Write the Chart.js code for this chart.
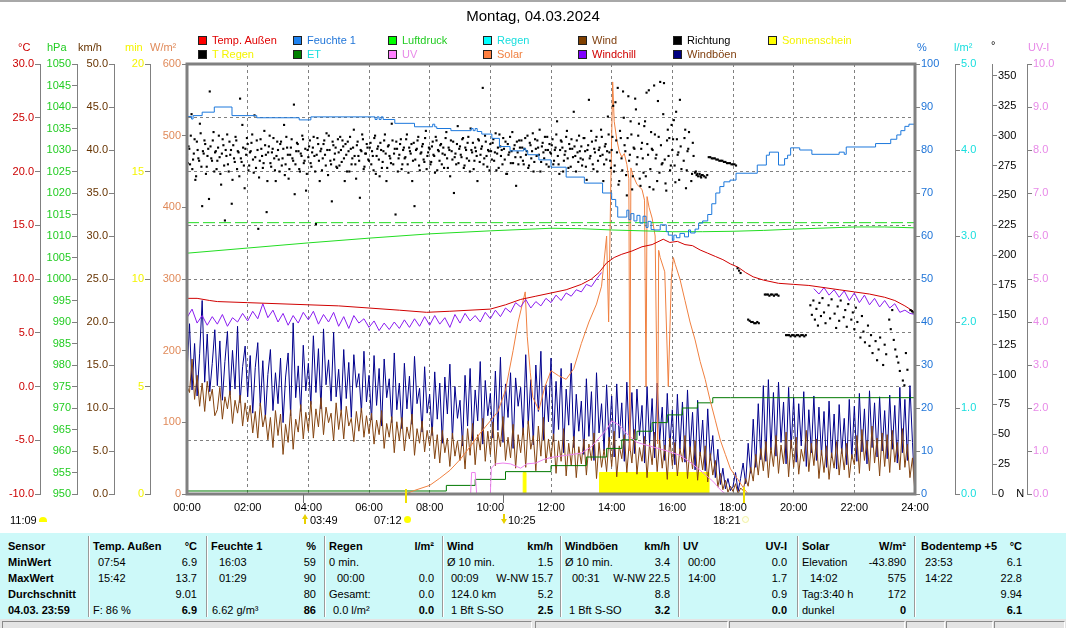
<!DOCTYPE html>
<html lang="de">
<head>
<meta charset="utf-8">
<title>Montag, 04.03.2024</title>
<script src="https://cdn.jsdelivr.net/npm/chart.js@4.4.1/dist/chart.umd.min.js"></script>
<style>
html,body{margin:0;padding:0;background:#fff;}
body{width:1066px;height:628px;overflow:hidden;position:relative;font-family:"Liberation Sans",Arial,sans-serif;font-size:11px;color:#000;}
#chart{position:absolute;left:0;top:0;}
.a{position:absolute;white-space:nowrap;line-height:13px;}
.lg{position:absolute;white-space:nowrap;line-height:13px;height:13px;}
.lg i{position:absolute;left:0;top:2px;width:7px;height:7px;border:1px solid #202020;}
.lg span{position:absolute;left:14px;top:0;}
#tbl{position:absolute;left:0;top:533px;width:1066px;height:86px;background:#cdf9f9;}
.sep{position:absolute;top:3px;width:1px;height:81px;background:#9a9a9a;border-right:1px solid #fff;}
.c{position:absolute;white-space:nowrap;line-height:13px;font-size:11px;}
.b{font-weight:bold;}
#status{position:absolute;left:0;top:619px;width:1066px;height:9px;background:#e4e4e4;}
.pn{position:absolute;top:2px;height:7px;border-top:1px solid #8a8a8a;border-left:1px solid #8a8a8a;border-right:1px solid #fff;}
</style>
</head>
<body>
<div style="position:absolute;left:0;top:0;width:1066px;height:2px;background:#a8a8a8"></div>
<canvas id="chart" width="1066" height="628"></canvas>

<!-- legend -->
<div class="lg" style="left:198px;top:34px"><i style="background:#ff0000"></i><span style="color:#e00000">Temp. Außen</span></div>
<div class="lg" style="left:293px;top:34px"><i style="background:#1e82f0"></i><span style="color:#1e74d8">Feuchte 1</span></div>
<div class="lg" style="left:388px;top:34px"><i style="background:#00ff00"></i><span style="color:#22cc22">Luftdruck</span></div>
<div class="lg" style="left:483px;top:34px"><i style="background:#00ffff"></i><span style="color:#18dede">Regen</span></div>
<div class="lg" style="left:578px;top:34px"><i style="background:#804000"></i><span style="color:#804010">Wind</span></div>
<div class="lg" style="left:673px;top:34px"><i style="background:#000000"></i><span style="color:#000000">Richtung</span></div>
<div class="lg" style="left:768px;top:34px"><i style="background:#ffff00"></i><span style="color:#f4f400">Sonnenschein</span></div>
<div class="lg" style="left:198px;top:47.5px"><i style="background:#000000"></i><span style="color:#f4f400">T Regen</span></div>
<div class="lg" style="left:293px;top:47.5px"><i style="background:#008000"></i><span style="color:#18dede">ET</span></div>
<div class="lg" style="left:388px;top:47.5px"><i style="background:#ff80ff"></i><span style="color:#e88ae8">UV</span></div>
<div class="lg" style="left:483px;top:47.5px"><i style="background:#ff8040"></i><span style="color:#f08040">Solar</span></div>
<div class="lg" style="left:578px;top:47.5px"><i style="background:#8000ff"></i><span style="color:#d00000">Windchill</span></div>
<div class="lg" style="left:673px;top:47.5px"><i style="background:#000080"></i><span style="color:#804010">Windböen</span></div>

<!-- axis titles -->
<div class="a" style="left:18px;top:41px;color:#cc0000">°C</div>
<div class="a" style="left:47px;top:41px;color:#22cc22">hPa</div>
<div class="a" style="left:78px;top:41px;color:#663300">km/h</div>
<div class="a" style="left:125px;top:41px;color:#f4f400">min</div>
<div class="a" style="left:150px;top:41px;color:#e08a5a">W/m²</div>
<div class="a" style="left:917px;top:41px;color:#1e74d8">%</div>
<div class="a" style="left:954px;top:41px;color:#18dede">l/m²</div>
<div class="a" style="left:991px;top:39px;color:#000">°</div>
<div class="a" style="left:1028px;top:41px;color:#e88ae8">UV-I</div>

<!-- markers below the time axis -->
<div style="position:absolute;left:303px;top:494px;width:1px;height:9px;background:#707070"></div>
<div style="position:absolute;left:503px;top:494px;width:1px;height:9px;background:#707070"></div>
<div style="position:absolute;left:405px;top:489px;width:2px;height:14px;background:#f0e000"></div>
<div style="position:absolute;left:743px;top:487px;width:2px;height:16px;background:#f0e000"></div>
<div class="a" style="left:10px;top:513.5px">11:09</div>
<div style="position:absolute;left:39px;top:517px;width:8px;height:5px;border-radius:4px 4px 0 0;background:#ffff00"></div>
<div style="position:absolute;left:302px;top:514px;width:0;height:0;border-left:3px solid transparent;border-right:3px solid transparent;border-bottom:5px solid #e8d000"></div>
<div style="position:absolute;left:304px;top:519px;width:2px;height:5px;background:#e8d000"></div>
<div class="a" style="left:310px;top:513.5px">03:49</div>
<div class="a" style="left:374px;top:513.5px">07:12</div>
<div style="position:absolute;left:404px;top:516px;width:7px;height:7px;border-radius:50%;background:#ffff00"></div>
<div style="position:absolute;left:503px;top:514px;width:2px;height:5px;background:#e8d000"></div>
<div style="position:absolute;left:501px;top:519px;width:0;height:0;border-left:3px solid transparent;border-right:3px solid transparent;border-top:5px solid #e8d000"></div>
<div class="a" style="left:508px;top:513.5px">10:25</div>
<div class="a" style="left:713px;top:513.5px">18:21</div>
<div style="position:absolute;left:742px;top:516px;width:5px;height:5px;border-radius:50%;border:1px solid #f0f0a0;background:#fffff0"></div>

<div id="tbl"></div>
<div id="status"></div>

<script>
// ---------------- data ----------------
const timeLabels = ['00:00','02:00','04:00','06:00','08:00','10:00','12:00','14:00','16:00','18:00','20:00','22:00','24:00'];
const dirTicks = [0,25,50,75,100,125,150,175,200,225,250,275,300,325,350];

// Temp. Außen (°C)
const tempTimes  = [0,20,45,60,120,180,240,300,360,420,474,520,600,630,660,690,720,750,780,800,815,830,845,860,880,900,920,942,955,970,985,1000,1015,1030,1045,1060,1075,1090,1105,1120,1140,1170,1200,1230,1260,1290,1320,1350,1380,1400,1420,1440];
const tempValues = [8.2,8.2,8.0,7.9,7.8,7.7,7.6,7.5,7.3,7.1,6.9,7.0,7.2,7.6,8.1,8.4,8.7,9.0,9.5,10.0,10.6,11.5,12.0,12.3,12.6,13.0,13.2,13.7,13.4,13.5,13.2,13.1,12.7,12.4,12.1,11.8,11.4,11.1,10.6,10.2,9.9,9.6,9.5,9.4,9.2,9.0,8.8,8.6,8.3,8.0,7.5,6.9];

// Windchill (°C), every 10 min
const WC_STEP = 10;
const windchill = [
6.4,7.2,5.9,6.6,5.7,6.5, 5.8,6.7,5.6,6.4,6.0,6.8, 6.1,7.0,6.3,7.7,6.4,7.1, 6.0,6.8,5.7,6.6,5.9,6.9,
6.2,7.0,5.8,6.7,6.0,6.9, 5.6,6.5,5.4,6.6,5.9,6.3, 5.5,6.1,5.2,5.9,5.3,6.0, 5.4,6.2,5.5,6.3,5.6,6.5,
5.7,6.6,5.8,6.4,5.5,6.7, 5.9,6.8,6.1,6.6,6.0,6.9, 6.3,7.1,6.5,7.3,6.9,7.8, 7.4,8.1,7.3,7.9,7.5,8.2,
7.8,8.5,8.0,8.7,8.4,9.0, 8.8,9.5,9.3,10.0,10.6,null,
null,null,null,null,null,null, null,null,null,null,null,null, null,null,null,null,null,null,
null,null,null,null,null,null, null,null,null,null,null,null, null,null,null,null,null,null,
null,null,null,null,9.1,8.6, 9.2,8.5,9.0,8.3,8.9,8.0, 8.7,7.8,8.5,7.6,8.2,7.4, 8.0,7.3,7.7,6.9,7.1,6.8,
6.7];

// Feuchte 1 (%)
const humTimes  = [0,9,12,30,54,89,138,222,245,372, 376,380,384,388,411,450,486,490,494,522, 562,566,570,574,583,603,618,639,666,670, 674,696,720,750,786,822,840,848,852,870, 874,878,884,890,896,902,908,912,918,924, 936,948,952,960,963,968,975,984,992,996, 1005,1012,1020,1030,1038,1046,1054,1062,1074,1086, 1128,1146,1152,1170,1182,1188,1194,1212,1236,1290, 1300,1304,1362,1392,1404,1412,1420,1428,1436,1440];
const humValues = [87.2,87.8,87.2,88.0,88.8,90.0,88.0,87.5,87.0,87.7, 87.1,87.7,87.1,87.7,87.1,86.2,85.4,86.0,85.4,85.0, 84.5,85.0,84.5,85.0,84.3,83.7,82.7,80.8,79.8,80.3, 79.8,78.9,77.7,76.0,73.7,72.3,70.0,68.5,66.8,64.4, 66.0,63.8,65.2,63.5,64.8,63.0,64.6,62.0,63.4,61.5, 61.4,62.6,61.0,60.2,59.0,60.2,59.6,60.6,59.8,61.4, 60.7,61.6,63.0,63.5,65.0,67.5,70.0,71.5,72.6,73.0, 74.6,76.5,78.8,79.5,76.5,78.0,78.8,80.5,80.0,79.0, 79.5,79.0,80.7,81.5,82.5,83.5,84.5,85.5,86.0,86.0];

// Luftdruck (hPa)
const presTimes  = [0,120,240,360,480,600,720,780,840,900,960,1020,1080,1140,1200,1320,1380,1440];
const presValues = [1006.0,1007.2,1008.4,1009.5,1010.5,1011.2,1011.8,1011.7,1011.4,1011.2,1011.0,1011.0,1011.1,1011.3,1011.6,1012.1,1012.1,1011.9];
const presRefTimes  = [0,1440];
const presRefValues = [1013.1,1013.1];

// Regen (l/m²) and ET (l/m²)
const rainTimes  = [0,1440];
const rainValues = [0,0];
const etTimes  = [0,513,570,630,720,790,830,860,890,920,950,980,1010,1040,1075,1440];
const etValues = [0,0.035,0.1,0.17,0.26,0.33,0.43,0.53,0.63,0.73,0.83,0.92,1.0,1.06,1.12,1.12];

// Sonnenschein (min)
const sunTimes  = [0,665,665,670,670,816,816,1032,1032,1440];
const sunValues = [0,0,1,1,0,0,1,1,0,0];

// UV-I
const uvTimes  = [0,561,563,570,573,600,602,610,625,640, 660,672,690,705,720,750,780,800,815,830, 840,855,870,890,920,950,975,1000,1020,1040, 1055,1065,1440];
const uvValues = [0,0,0.5,0.5,0,0,0.6,0.7,0.72,0.7, 0.6,0.7,0.72,0.8,0.85,0.9,0.95,1.1,1.3,1.5, 1.7,1.6,1.4,1.2,1.1,1.0,0.9,0.7,0.5,0.3, 0.1,0,0];

// Solar (W/m²)
const solarTimes  = [0,432,450,480,500,520,540,560,580,600, 615,630,645,655,665,669,673,679,684,696, 708,720,735,750,765,780,795,810,820,830, 834,838,842,845,850,855,860,865,870,874, 876,878,882,890,900,905,908,910,914,920, 926,931,933,936,945,952,958,962,966,975, 985,995,1005,1015,1025,1035,1045,1055,1065,1075, 1090,1101,1110,1440];
const solarValues = [0,0,5,12,22,33,48,66,85,102, 115,145,200,240,270,282,220,170,135,117, 150,172,165,160,175,210,240,265,290,360, 240,420,575,520,495,478,470,475,460,440, 60,455,445,432,425,410,150,415,400,385, 360,70,340,330,310,150,300,330,320,300, 270,240,215,185,160,130,103,75,55,35, 20,8,0,0];

// Wind and Windböen (km/h), every 5 min
const WIND_STEP = 5;
const windKmh = [
12.5,11.8,15.7,11.0,13.8,10.2,12.9,9.6,13.1,10.8,12.2,9.1,
9.8,12.4,8.7,11.3,9.9,12.0,8.2,10.9,9.4,11.5,7.9,10.6,
8.4,10.3,7.1,9.6,6.5,10.6,7.8,9.2,6.3,8.9,5.4,9.7,
6.8,9.3,4.6,8.1,6.0,9.8,5.2,8.7,7.2,10.4,6.4,9.5,
7.3,10.8,6.5,9.9,7.8,11.2,6.9,10.1,8.3,9.4,6.2,10.6,
7.5,9.8,6.4,10.2,7.9,8.8,6.1,9.6,7.3,10.0,6.6,9.1,
7.0,9.4,5.8,8.6,6.9,9.7,5.3,8.2,6.6,9.0,4.8,8.4,
6.2,8.9,5.0,7.8,6.4,9.3,4.5,7.6,5.9,8.5,4.9,7.4,
5.6,7.8,4.1,6.9,3.6,7.4,4.8,6.5,3.2,7.1,4.4,6.2,
3.9,6.8,2.9,7.6,4.5,8.2,3.4,6.9,5.1,8.8,3.8,7.3,
4.6,8.4,3.3,7.2,5.5,9.0,3.9,6.6,4.2,8.1,3.0,6.9,
4.8,7.7,3.1,8.5,5.2,6.8,2.7,7.9,4.4,8.9,3.6,6.4,
4.1,7.0,2.4,6.2,3.8,7.6,2.1,5.9,3.3,6.7,1.9,5.5,
3.5,6.4,2.2,5.8,3.9,7.1,1.8,6.0,3.1,5.2,2.6,6.6,
3.2,7.3,2.0,5.6,4.1,6.9,2.5,6.1,3.6,7.5,2.3,5.4,
3.8,6.7,1.9,5.9,3.4,7.2,2.6,6.3,3.0,5.7,1.7,6.5,
3.3,6.0,2.1,5.3,3.7,6.8,1.8,5.5,2.9,6.2,1.6,4.9,
2.8,5.6,1.4,4.7,2.2,3.9,0.8,2.4,0.5,1.6,0.2,0.9,
0.3,1.2,0.0,0.7,0.4,1.8,0.9,3.1,1.5,4.6,2.2,5.3,
2.7,6.1,1.9,5.4,3.2,6.8,2.4,5.7,3.5,7.2,2.0,6.3,
3.1,6.6,2.3,5.2,3.8,7.4,2.6,5.9,3.3,6.4,1.8,5.1,
2.5,5.6,1.7,4.8,3.0,6.1,2.2,5.3,2.8,5.9,1.9,4.6,
3.4,6.8,2.4,7.5,3.9,6.2,2.7,7.9,3.6,6.5,2.1,7.1,
3.2,6.9,2.5,7.4,3.7,6.0,2.8,7.6,3.1,5.8,1.9,4.2,
0.0];
const gustKmh = [
14.2,19.8,12.1,17.5,11.4,16.3,22.5,13.0,18.6,11.9,15.2,19.1,
12.6,17.8,10.9,15.4,18.9,11.5,16.7,12.2,19.5,10.6,14.8,17.2,
11.3,16.1,9.4,14.7,17.6,10.2,15.5,8.8,13.9,16.8,9.7,14.1,
10.5,15.8,8.3,13.6,16.4,9.1,19.9,11.2,14.9,9.6,17.3,12.0,
15.2,10.4,18.4,11.8,16.9,9.9,19.2,12.7,15.6,10.8,18.8,11.3,
14.5,9.7,16.8,11.1,15.3,8.9,16.2,12.4,14.0,9.5,16.6,10.7,
13.8,8.6,16.1,10.3,14.6,7.9,15.7,11.2,13.4,8.3,16.4,9.8,
12.9,7.6,15.2,9.9,13.7,8.1,16.0,10.5,12.3,7.2,14.8,9.4,
11.6,6.8,14.2,8.7,12.9,5.9,13.6,9.3,15.1,6.4,12.5,8.8,
10.9,5.6,13.8,7.9,14.6,6.2,12.1,8.5,15.4,5.8,13.2,9.1,
11.7,6.5,14.3,7.4,15.9,6.0,12.8,8.9,14.1,5.3,13.5,10.2,
12.4,6.9,16.2,8.1,13.3,5.7,15.0,9.6,16.6,6.3,12.7,8.4,
15.8,6.1,13.1,7.5,14.6,4.8,12.2,8.0,15.2,5.4,11.6,7.3,
10.8,4.6,13.4,6.7,11.9,3.9,14.1,7.1,10.5,5.0,12.7,6.2,
11.4,4.3,12.8,6.5,10.6,3.8,13.0,5.9,11.8,4.7,12.2,6.8,
10.3,3.6,12.5,5.8,11.1,4.2,12.9,6.3,10.1,3.9,11.7,5.5,
9.8,3.4,11.6,5.2,10.7,3.7,12.1,4.9,9.5,2.8,10.9,4.4,
8.6,2.7,9.9,3.9,6.8,1.9,5.2,1.1,3.0,0.6,1.8,0.4,
0.9,2.5,0.3,1.8,3.6,1.2,5.9,2.4,8.7,3.1,10.5,4.0,
12.6,3.8,13.3,5.1,11.8,4.4,13.0,6.0,10.7,3.5,12.4,5.3,
11.2,3.7,10.5,5.6,11.9,3.2,9.8,4.8,11.4,3.9,10.1,4.5,
9.6,3.1,10.8,4.2,9.3,2.9,10.4,4.7,8.8,3.4,11.0,4.1,
10.2,3.8,11.7,4.9,9.9,3.5,12.0,5.4,10.6,4.3,11.3,5.0,
9.7,4.1,11.5,5.2,10.3,3.6,12.4,4.8,11.0,3.9,12.6,6.0,
0.0];

// Richtung (°): main readings every 3 min, second readings offset by 1.5 min (00:00-17:00)
const DIR_STEP = 3;
const DIR2_OFFSET = 1.5;
const dirDeg = [
284,291,276,318,280,297,266,288,279,302,241,285,293,274,289,337,281,296,270,287,
279,300,268,285,292,229,283,276,295,288,263,281,299,272,286,331,278,290,256,284,
293,275,287,301,269,282,296,222,279,289,273,304,284,262,291,277,286,298,271,283,
288,270,295,281,309,276,290,264,284,297,279,251,287,293,272,285,300,277,289,268,
282,296,274,290,283,226,298,279,287,271,293,284,302,267,288,276,295,280,290,273,
286,299,278,291,262,284,295,270,289,281,305,276,292,283,248,287,297,274,285,290,
279,294,287,271,300,283,291,266,288,278,296,285,273,292,281,310,276,289,295,270,
284,297,276,290,282,301,269,287,293,279,241,288,296,275,285,291,280,298,272,286,
289,278,295,283,299,271,287,292,276,290,284,303,273,288,296,280,252,285,293,277,
291,282,298,275,288,294,279,306,286,272,290,283,297,278,289,340,281,295,274,287,
293,280,297,286,271,290,301,283,276,289,295,268,284,299,287,277,292,258,286,296,
282,290,276,298,287,273,294,281,302,278,289,296,284,270,291,286,299,276,288,293,
285,297,279,290,312,276,288,295,270,284,299,281,293,274,289,320,283,296,278,287,
291,280,298,274,288,330,283,295,272,286,299,279,290,305,284,276,293,287,301,279,
288,325,275,296,340,262,298,271,315,287,250,333,284,301,266,289,322,282,310,258,
294,269,312,336,284,257,303,288,342,281,262,299,345,276,318,280,254,305,298,275,
288,313,261,297,286,330,272,null,298,256,287,303,null,268,283,269,267,266,268,265,
267,266,265,267,282,282,281,281,281,280,280,279,279,279,278,278,277,277,277,276,
276,276,275,189,187,185,null,null,null,null,146,145,144,144,143,143,144,143,null,null,
null,167,167,167,166,167,167,166,167,167,166,null,null,null,null,133,133,133,132,133,
133,132,133,133,132,133,133,132,133,null,null,158,150,162,146,155,141,160,149,164,
152,143,null,158,147,163,null,151,139,157,145,162,null,148,154,140,159,null,146,152,
138,156,144,null,131,149,136,127,null,141,124,133,118,null,128,112,121,131,null,108,
125,117,null,146,138,154,129,121,115,110,103,null,95,91,118,104,null,154,153,152,
152];
const dirDeg2 = [
277,289,300,272,285,263,295,281,310,274,287,296,268,283,247,291,279,303,286,272,
290,282,259,297,275,288,301,270,284,243,292,278,296,287,266,281,309,275,289,298,
271,286,294,280,317,273,288,265,297,283,277,292,236,286,300,274,289,281,262,295,
280,293,275,289,267,299,284,272,290,281,326,276,294,287,270,283,297,279,254,288,
291,277,286,299,270,284,293,262,289,281,296,275,288,300,279,245,292,285,274,297,
275,288,296,281,293,270,287,299,276,290,283,264,295,279,288,301,272,285,293,280,
290,276,283,298,268,289,280,294,273,287,301,262,291,283,277,296,285,234,289,281,
293,272,288,281,297,276,290,285,262,294,280,289,299,271,286,293,278,304,283,290,
276,291,284,269,296,288,279,293,285,273,298,281,290,266,287,295,282,276,308,289,
284,297,273,290,281,299,270,288,294,279,287,262,296,284,291,276,300,283,288,271,
287,294,279,302,285,273,291,288,298,280,268,293,286,277,303,289,282,295,276,290,
296,279,289,284,300,275,292,287,270,297,283,290,305,278,294,281,288,299,274,286,
292,276,288,301,283,268,296,290,279,287,304,273,289,297,282,291,270,286,300,281,
275,298,287,263,292,281,304,276,289,296,270,288,283,299,262,291,280,316,286,273,
299,270,328,286,259,304,281,337,292,267,298,279,312,255,290,331,276,300,264,289,
281,308,266,293,338,272,289,255,301,284,329,269,292,277,344,260,296,283,271,309,
297,275,320,284,263,291,null,279,305,271,289,null,262,294,null,270,268,null,266,267];

// ---------------- chart ----------------
const FONT = '"Liberation Sans", Arial, sans-serif';
Chart.defaults.font.family = FONT;
Chart.defaults.font.size = 11;

const pts = (t, v) => t.map((x, i) => ({x: x, y: v[i]}));
const series = (v, step, off) => v.map((y, i) => ({x: (off || 0) + i * step, y: y}));

const GRAY = '#808080';
function yAxis(pos, weight, width, min, max, step, color, fmt, extra) {
  const o = {
    type: 'linear', position: pos, weight: weight, min: min, max: max,
    grid: {display: true, drawOnChartArea: false, drawTicks: true, tickLength: 5, color: GRAY, tickColor: GRAY},
    border: {display: true, color: GRAY, width: 1},
    ticks: {stepSize: step, autoSkip: false, padding: 1, color: color, font: {size: 11}, callback: fmt},
    afterFit: s => { s.width = width; }
  };
  if (extra) extra(o);
  return o;
}

const framePlugin = {
  id: 'frame',
  afterDatasetsDraw(chart) {
    const {ctx, chartArea: a} = chart;
    ctx.save();
    ctx.strokeStyle = GRAY;
    ctx.lineWidth = 3;
    ctx.strokeRect(a.left, a.top, a.right - a.left, a.bottom - a.top);
    ctx.restore();
  }
};

const line = (o) => Object.assign({pointRadius: 0, borderWidth: 1, tension: 0, fill: false, spanGaps: false}, o);
const dirPoints = series(dirDeg, DIR_STEP).concat(series(dirDeg2, DIR_STEP, DIR2_OFFSET));

new Chart(document.getElementById('chart'), {
  type: 'line',
  data: {
    datasets: [
      line({label: 'Sonnenschein', data: pts(sunTimes, sunValues), yAxisID: 'yM', fill: 'origin', borderColor: '#ffff00', backgroundColor: '#ffff00', order: 10}),
      line({label: 'Windböen', data: series(gustKmh, WIND_STEP), yAxisID: 'yW', borderColor: '#00008c', order: 9}),
      line({label: 'Wind', data: series(windKmh, WIND_STEP), yAxisID: 'yW', borderColor: '#844410', order: 8}),
      line({label: 'Regen', data: pts(rainTimes, rainValues), yAxisID: 'yR', borderColor: '#00e0e0', order: 7}),
      line({label: 'ET', data: pts(etTimes, etValues), yAxisID: 'yR', stepped: 'after', borderColor: '#007800', order: 7}),
      line({label: 'UV', data: pts(uvTimes, uvValues), yAxisID: 'yU', borderColor: '#ee82ee', order: 6}),
      line({label: 'Solar', data: pts(solarTimes, solarValues), yAxisID: 'yS', borderColor: '#f08040', order: 5}),
      line({label: 'Windchill', data: series(windchill, WC_STEP), yAxisID: 'yT', borderColor: '#8a1cf0', order: 4}),
      line({label: 'Luftdruck', data: pts(presTimes, presValues), yAxisID: 'yP', borderColor: '#22dd22', order: 3}),
      line({label: 'Luftdruck Referenz', data: pts(presRefTimes, presRefValues), yAxisID: 'yP', borderColor: '#22dd22', borderDash: [12, 4], order: 3}),
      line({label: 'Temp. Außen', data: pts(tempTimes, tempValues), yAxisID: 'yT', borderColor: '#d00000', order: 2}),
      {label: 'Richtung', data: dirPoints, yAxisID: 'yD', showLine: false, pointStyle: 'rect', pointRadius: 1.5, pointBorderWidth: 0, pointBackgroundColor: '#000', borderColor: '#000', backgroundColor: '#000', order: 1},
      line({label: 'Feuchte 1', data: pts(humTimes, humValues), yAxisID: 'yH', stepped: 'after', borderColor: '#1c78dc', order: 0})
    ]
  },
  options: {
    responsive: false,
    animation: false,
    events: [],
    layout: {padding: {left: 0, right: 0, top: 0, bottom: 114}},
    plugins: {
      legend: {display: false},
      tooltip: {enabled: false},
      title: {display: true, text: 'Montag, 04.03.2024', color: '#000', font: {size: 15, weight: 'normal'}, padding: {top: 8, bottom: 38}}
    },
    scales: {
      x: {
        type: 'linear', min: 0, max: 1440,
        grid: {display: true, color: GRAY, drawTicks: false},
        border: {display: true, color: GRAY, dash: [3, 3]},
        ticks: {stepSize: 120, color: '#000', padding: 7, font: {size: 11}, callback: v => timeLabels[Math.round(v / 120)]},
        afterFit: s => { s.height = 20; }
      },
      yS: yAxis('left', 0, 37, 0, 600, 100, '#e08a5a', v => v),
      yM: yAxis('left', 1, 36, 0, 20, 5, '#f4f400', v => v),
      yW: yAxis('left', 2, 37, 0, 50, 5, '#663300', v => v.toFixed(1)),
      yP: yAxis('left', 3, 37, 950, 1050, 5, '#22cc22', v => v),
      yT: yAxis('left', 4, 40, -10, 30, 5, '#cc0000', v => v.toFixed(1), o => {
        o.grid.drawOnChartArea = true;
        o.border.dash = [3, 3];
      }),
      yH: yAxis('right', 0, 40, 0, 100, 10, '#1e74d8', v => v),
      yR: yAxis('right', 1, 37, 0, 5, 1, '#18dede', v => v.toFixed(1)),
      yD: yAxis('right', 2, 35, 0, 360, 25, '#000', v => (v === 0 ? '0    N' : v), o => {
        o.afterBuildTicks = s => { s.ticks = dirTicks.map(v => ({value: v})); };
      }),
      yU: yAxis('right', 3, 39, 0, 10, 1, '#e88ae8', v => v.toFixed(1))
    }
  },
  plugins: [framePlugin]
});

// ---------------- table ----------------
const rowTops = [6.5, 22.5, 38.5, 54.5, 70.5];
const tableCells = [
 [8,0,'Sensor',0,1],[8,1,'MinWert',0,1],[8,2,'MaxWert',0,1],[8,3,'Durchschnitt',0,1],[8,4,'04.03. 23:59',0,1],
 [93,0,'Temp. Außen',0,1],[197,0,'°C',1,1],[98,1,'07:54'],[197,1,'6.9',1],[98,2,'15:42'],[197,2,'13.7',1],[197,3,'9.01',1],[93,4,'F: 86 %'],[197,4,'6.9',1,1],
 [211,0,'Feuchte 1',0,1],[316,0,'%',1,1],[219,1,'16:03'],[316,1,'59',1],[219,2,'01:29'],[316,2,'90',1],[316,3,'80',1],[212,4,'6.62 g/m³'],[316,4,'86',1,1],
 [329,0,'Regen',0,1],[434,0,'l/m²',1,1],[329,1,'0 min.'],[337,2,'00:00'],[434,2,'0.0',1],[329,3,'Gesamt:'],[434,3,'0.0',1],[333,4,'0.0 l/m²'],[434,4,'0.0',1,1],
 [447,0,'Wind',0,1],[553,0,'km/h',1,1],[447,1,'Ø 10 min.'],[553,1,'1.5',1],[451,2,'00:09'],[553,2,'W-NW 15.7',1],[451,3,'124.0 km'],[553,3,'5.2',1],[451,4,'1 Bft S-SO'],[553,4,'2.5',1,1],
 [565,0,'Windböen',0,1],[670,0,'km/h',1,1],[565,1,'Ø 10 min.'],[670,1,'3.4',1],[572,2,'00:31'],[670,2,'W-NW 22.5',1],[670,3,'8.8',1],[569,4,'1 Bft S-SO'],[670,4,'3.2',1,1],
 [683,0,'UV',0,1],[787,0,'UV-I',1,1],[688,1,'00:00'],[787,1,'0.0',1],[688,2,'14:00'],[787,2,'1.7',1],[787,3,'0.9',1],[787,4,'0.0',1,1],
 [802,0,'Solar',0,1],[906,0,'W/m²',1,1],[802,1,'Elevation'],[906,1,'-43.890',1],[810,2,'14:02'],[906,2,'575',1],[802,3,'Tag:3:40 h'],[906,3,'172',1],[802,4,'dunkel'],[906,4,'0',1,1],
 [921,0,'Bodentemp +5',0,1],[1022,0,'°C',1,1],[925,1,'23:53'],[1022,1,'6.1',1],[925,2,'14:22'],[1022,2,'22.8',1],[1022,3,'9.94',1],[1022,4,'6.1',1,1]
];
const tableSeps = [88, 206, 324, 442, 560, 678, 797, 914];
const tbl = document.getElementById('tbl');
tableSeps.forEach(x => { const d = document.createElement('div'); d.className = 'sep'; d.style.left = x + 'px'; tbl.appendChild(d); });
tableCells.forEach(c => {
  const d = document.createElement('div');
  d.className = 'c' + (c[4] ? ' b' : '');
  d.textContent = c[2];
  d.style.top = rowTops[c[1]] + 'px';
  if (c[3]) d.style.right = (1066 - c[0]) + 'px'; else d.style.left = c[0] + 'px';
  tbl.appendChild(d);
});
const panels = [[2,530],[535,726],[729,903],[906,943],[946,991],[994,1063]];
const st = document.getElementById('status');
panels.forEach(p => { const d = document.createElement('div'); d.className = 'pn'; d.style.left = p[0] + 'px'; d.style.width = (p[1] - p[0]) + 'px'; st.appendChild(d); });
</script>
</body>
</html>
